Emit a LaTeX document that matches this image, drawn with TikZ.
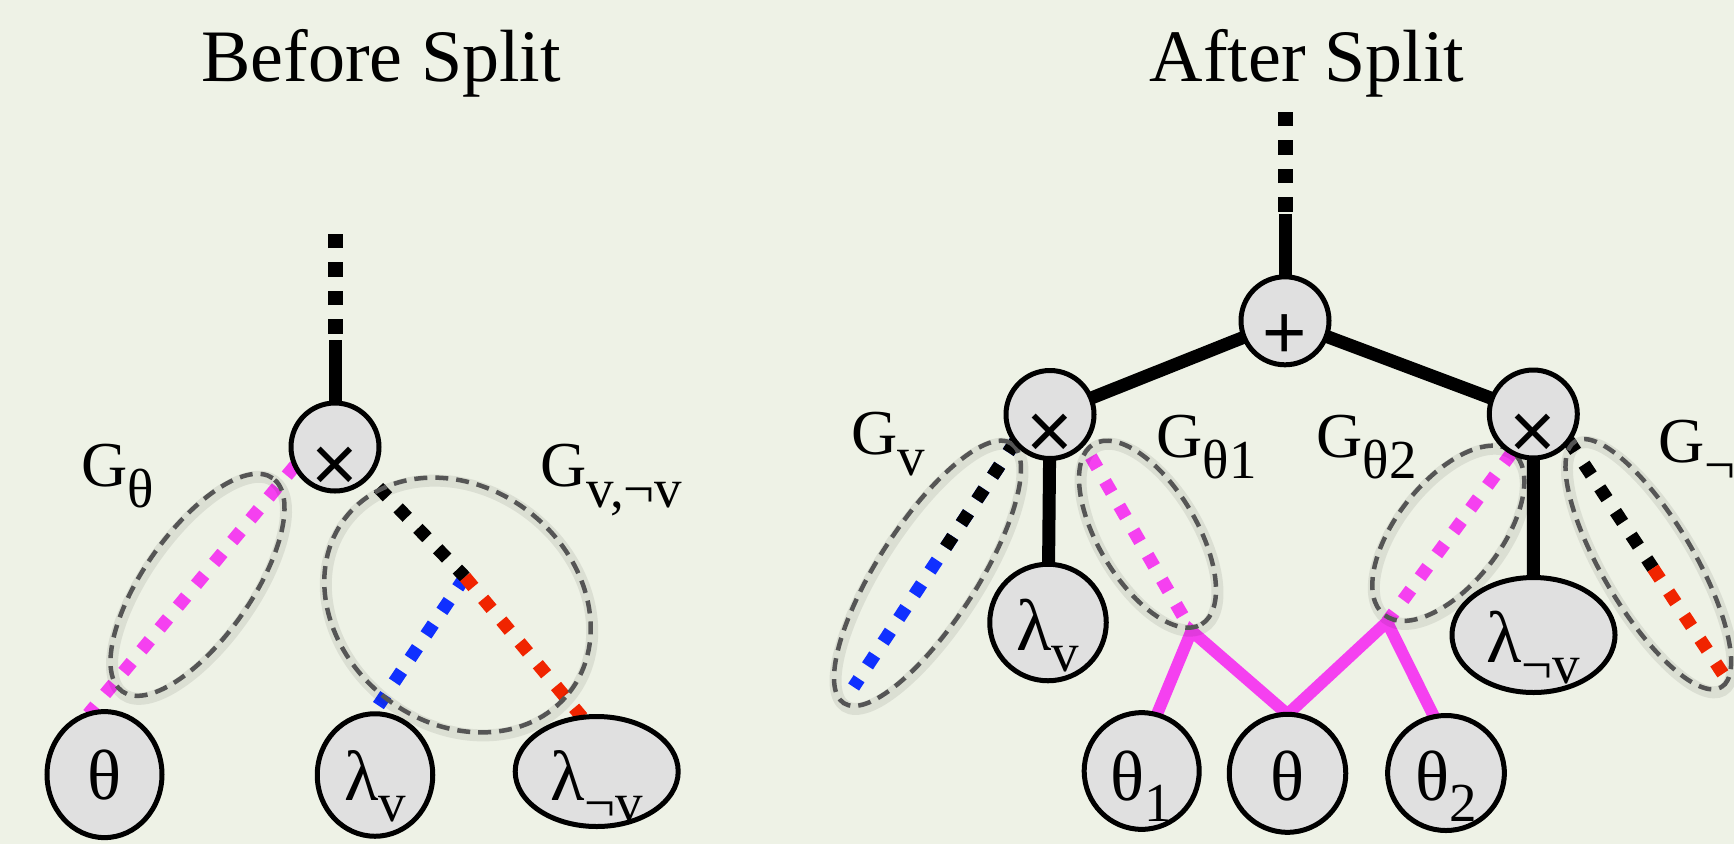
\documentclass[tikz,border=0pt]{standalone}
\usepackage{fontspec}
\setmainfont{Liberation Serif}
\newfontfamily\opfont{Liberation Sans}
\usetikzlibrary{shapes.geometric}

\definecolor{paper}{RGB}{238,242,230}
\definecolor{nodefill}{RGB}{224,224,224}
\definecolor{grpline}{RGB}{85,85,85}
\definecolor{pink}{RGB}{245,64,240}
\definecolor{vblue}{RGB}{16,48,255}
\definecolor{vred}{RGB}{240,36,0}

\pgfdeclarelayer{paperlayer}
\pgfdeclarelayer{wirelayer}
\pgfsetlayers{paperlayer,wirelayer,main}

% font size shortcut and lowered subscript
\newcommand\fs[1]{\fontsize{#1}{#1}\selectfont}
\newcommand\lowsub[1]{\raisebox{-21pt}{\fs{55}#1}}
\newcommand\opsym[1]{\raisebox{-44pt}{\opfont\fs{80}#1}}

\tikzset{
  every node/.style={inner sep=0pt, outer sep=0pt},
  opnode/.style={circle, draw=black, line width=5pt, fill=nodefill,
    minimum size=88pt, text height=0pt, text depth=0pt},
  leaf/.style={ellipse, draw=black, line width=5pt, fill=nodefill,
    text height=0pt, text depth=0pt},
  group/.style={ellipse, draw=grpline, line width=4.5pt, dash pattern=on 13pt off 8pt},
  groupshade/.style={ellipse, draw=black, draw opacity=0.08, line width=12pt,
    xshift=1.5pt, yshift=-3pt},
  wire/.style={line width=13pt},
  rootdash/.style={line width=15pt, dash pattern=on 14.3pt off 14.2pt},
  dotwire/.style={line width=13pt, dash pattern=on 13pt off 15.4pt},
  splitwire/.style={pink, line width=12pt},
  title/.style={anchor=base, font=\fs{74}},
  glabel/.style={anchor=base west, font=\fs{64}},
}

% dashed grouping ellipse with a soft shadow: name, centre, width, height, angle
\newcommand\grp[5]{%
  \node[groupshade, minimum width=#3, minimum height=#4, rotate=#5] at #2 {};
  \node[group, minimum width=#3, minimum height=#4, rotate=#5] (#1) at #2 {};
}

\begin{document}
\begin{tikzpicture}[x=1pt, y=-1pt]
\useasboundingbox (0,0) rectangle (1734,844);
\clip (0,0) rectangle (1734,844);
\begin{pgfonlayer}{paperlayer}
  \fill[paper] (0,0) rectangle (1734,844);
\end{pgfonlayer}

% ---------- titles ----------
\node[title] (tbefore) at (381,81) {Before Split};
\node[title] (tafter) at (1307,81) {After Split};

% ---------- before split ----------
\grp{gTheta}{(197.5,584.8)}{261pt}{107pt}{54.8}
\grp{gVnV}{(457.5,605)}{284pt}{235pt}{-38.1}

\node[opnode] (mulL) at (335,447) {\opsym{×}};
\node[leaf, minimum width=115pt, minimum height=126pt] (thL) at (104.5,774.6)
  {\raisebox{-24.5pt}{\fs{71}θ}};
\node[leaf, minimum width=115.5pt, minimum height=122.5pt] (lvL) at (375,775)
  {\raisebox{-25pt}{\fs{71}λ\lowsub{v}}};
\node[leaf, minimum width=163pt, minimum height=110pt] (lnL) at (596.7,771.5)
  {\raisebox{-28.5pt}{\fs{71}λ\lowsub{¬v}}};

\node[glabel] (lblTheta) at (81.7,486.5) {G\lowsub{θ}};
\node[glabel] (lblVnV) at (540,486.5) {G\lowsub{v,¬v}};

\coordinate (upL) at (335,339.6);
\coordinate (upLd) at (335,333.5);
\coordinate (topL) at (335,232);
\coordinate (jL) at (465,577);

\begin{pgfonlayer}{wirelayer}
  \draw[wire] (mulL) -- (upL);
  \draw[rootdash] (upLd) -- (topL);
  \draw[dotwire, pink] (mulL.205) -- (thL.105);
  \draw[dotwire, vblue] (jL) -- (lvL.92);
  \draw[dotwire, black, dash phase=13pt] (mulL.318) -- (jL);
  \draw[dotwire, vred] (jL) -- (lnL.105);
\end{pgfonlayer}

% ---------- after split ----------
\grp{gV}{(927.5,573.3)}{309pt}{99pt}{57.2}
\grp{gT1}{(1147.5,534.2)}{210pt}{98pt}{-59}
\grp{gT2}{(1448.3,533.3)}{207.5pt}{103.6pt}{51.8}
\grp{gNV}{(1648.3,564.2)}{286pt}{91pt}{-59.3}

\node[opnode] (plus) at (1285,320.8) {\raisebox{-38pt}{\opfont\fs{76}+}};
\node[opnode] (mulA) at (1050,414.5) {\opsym{×}};
\node[opnode] (mulB) at (1533.3,414) {\opsym{×}};

\node[leaf, minimum width=116.5pt, minimum height=116.5pt] (lvR) at (1048,622.5)
  {\raisebox{-27.5pt}{\fs{73}λ\lowsub{v}}};
\node[leaf, minimum width=163pt, minimum height=115pt] (lnR) at (1533.5,635)
  {\raisebox{-27pt}{\fs{73}λ\lowsub{¬v}}};
\node[leaf, minimum width=115pt, minimum height=116.7pt] (th1) at (1141.7,771)
  {\raisebox{-29pt}{\fs{71}θ\lowsub{1}}};
\node[leaf, minimum width=116.5pt, minimum height=118pt] (thR) at (1287.5,773.3)
  {\raisebox{-27pt}{\fs{71}θ}};
\node[leaf, minimum width=116.7pt, minimum height=115pt] (th2) at (1446,773)
  {\raisebox{-27pt}{\fs{71}θ\lowsub{2}}};

\node[glabel] (lblV) at (851.7,454) {G\lowsub{v}};
\node[glabel] (lblT1) at (1156.7,457) {G\lowsub{θ1}};
\node[glabel] (lblT2) at (1316.7,457) {G\lowsub{θ2}};
\node[glabel] (lblNV) at (1658,462) {G\lowsub{¬v}};

\coordinate (upR) at (1285,214);
\coordinate (upRd) at (1285,211.7);
\coordinate (topR) at (1285,111);
\coordinate (jA) at (1191.5,631);
\coordinate (jB) at (1387,622);
\coordinate (endV) at (853.6,687);
\coordinate (endNV) at (1725,677);
\path (mulA.218) -- (endV) coordinate[pos=0.456] (cV);
\path (mulB.323) -- (endNV) coordinate[pos=0.54] (cNV);

\begin{pgfonlayer}{wirelayer}
  \draw[wire] (plus) -- (upR);
  \draw[rootdash] (upRd) -- (topR);
  \draw[wire] (plus) -- (mulA);
  \draw[wire] (plus) -- (mulB);
  \draw[wire] (mulA) -- (lvR);
  \draw[wire] (mulB) -- (lnR);
  % split parameter edges
  \draw[splitwire] (th1.75) -- (jA) -- (thR.90) -- (jB) -- (th2.102);
  % grouped dotted edges
  \draw[dotwire, vblue] (mulA.218) -- (endV);
  \draw[dotwire, black] (mulA.218) -- (cV);
  \draw[dotwire, pink, dash phase=13pt] (mulA.319) -- (jA);
  \draw[dotwire, pink] (mulB.241.5) -- (jB);
  \draw[dotwire, black] (mulB.323) -- (cNV);
  \draw[dotwire, vred] (cNV) -- (endNV);
\end{pgfonlayer}
\end{tikzpicture}
\end{document}
